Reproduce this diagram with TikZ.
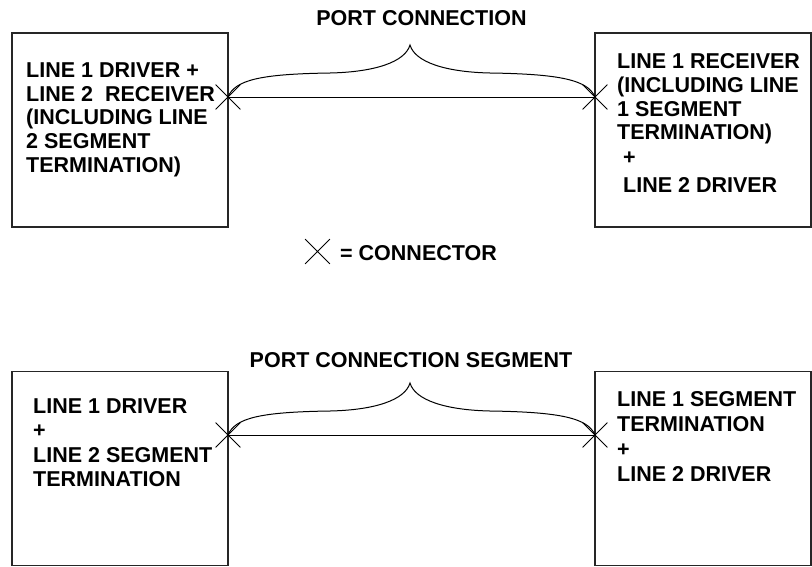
\documentclass[tikz,border=0pt]{standalone}
\usepackage{fontspec}
\setmainfont{Liberation Sans}
\usetikzlibrary{shapes.misc}
\begin{document}
\begin{tikzpicture}[x=1pt,y=-1pt,
  unitbox/.style={draw=black!85,line width=1.2pt,minimum width=216pt,minimum height=194pt,inner sep=0pt},
  txt/.style={font=\bfseries\fontsize{21.5}{23.7}\selectfont,align=left,inner sep=0pt,anchor=north west},
  ttl/.style={font=\bfseries\fontsize{21.5}{23.7}\selectfont,inner sep=0pt,anchor=base},
  conn/.style={draw,cross out,minimum size=24pt,inner sep=0pt,line width=0.8pt},
  wire/.style={line width=1pt},
  bracepath/.style={line width=1pt}]
\useasboundingbox (0,0) rectangle (812,566);
% top
\node[unitbox] (tl) at (120,130) {};
\node[unitbox] (tr) at (703,130) {};
\node[txt] (tlt) at (26,62.6) {LINE 1 DRIVER +\\LINE 2\ \ RECEIVER\\(INCLUDING LINE\\2 SEGMENT\\TERMINATION)};
\node[txt] (trt) at (617,53.6) {LINE 1 RECEIVER\\(INCLUDING LINE\\1 SEGMENT\\TERMINATION)\\[1.2pt]\ +\\[4.3pt]\ LINE 2 DRIVER};
\coordinate (p1) at (228,97);
\coordinate (p2) at (595,97);
\coordinate (m1) at (330,73);
\coordinate (t1) at (410,45);
\coordinate (n1) at (490,73);
\draw[wire] (p1) -- (p2);
\draw[bracepath] (p1) .. controls (235,80) and (260,74) .. (m1) .. controls (375,72) and (405,62) .. (t1)
  .. controls (415,62) and (445,72) .. (n1) .. controls (560,74) and (588,80) .. (p2);
\node[conn] (c1) at (p1) {};
\node[conn] (c2) at (p2) {};
\node[ttl] (title1) at (421.5,25) {PORT CONNECTION};
% legend
\node[conn] (cl) at (317.5,251.5) {};
\node[ttl,anchor=base west] (legend) at (340,260) {= CONNECTOR};
% bottom
\node[unitbox] (bl) at (120,468.5) {};
\node[unitbox] (br) at (703,468.5) {};
\node[txt] (blt) at (33,398.6) {LINE 1 DRIVER\\[0.6pt]+\\[0.6pt]LINE 2 SEGMENT\\[0.6pt]TERMINATION};
\node[txt] (brt) at (617,391.6) {LINE 1 SEGMENT\\[1.3pt]TERMINATION\\[1.3pt]+\\[1.3pt]LINE 2 DRIVER};
\coordinate (q1) at (228,435);
\coordinate (q2) at (595,435);
\coordinate (m2) at (330,411);
\coordinate (t2) at (410,383);
\coordinate (n2) at (490,411);
\draw[wire] (q1) -- (q2);
\draw[bracepath] (q1) .. controls (235,418) and (260,412) .. (m2) .. controls (375,410) and (405,400) .. (t2)
  .. controls (415,400) and (445,410) .. (n2) .. controls (560,412) and (588,418) .. (q2);
\node[conn] (c3) at (q1) {};
\node[conn] (c4) at (q2) {};
\node[ttl] (title2) at (411,367) {PORT CONNECTION SEGMENT};
\end{tikzpicture}
\end{document}
